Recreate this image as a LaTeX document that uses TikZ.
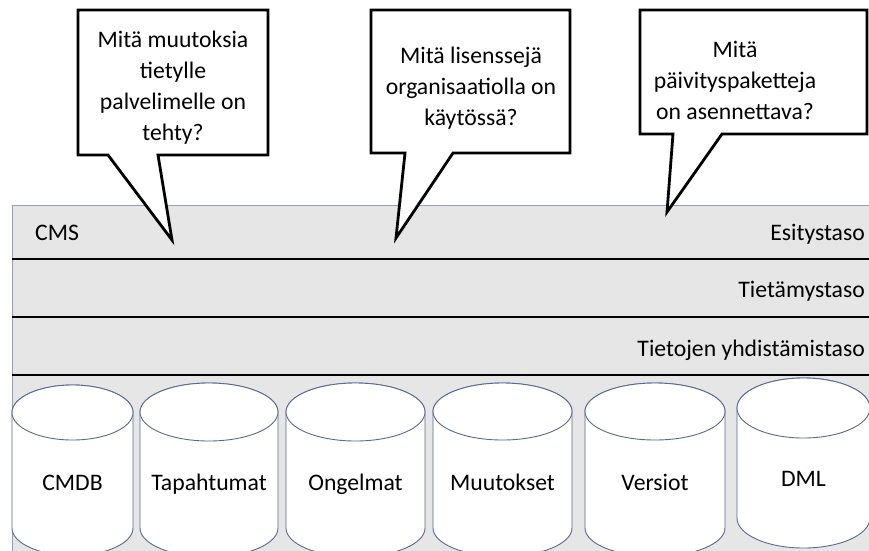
\documentclass[tikz,border=0pt]{standalone}
\usepackage{fontspec}
\setmainfont{Carlito}
\definecolor{layerfill}{HTML}{E6E6E6}
\definecolor{frameline}{HTML}{8EA0BE}
\definecolor{cylline}{HTML}{5A6892}
\begin{document}
\begin{tikzpicture}[x=1pt,y=-1pt,
  lbl/.style={font=\fontsize{23.7}{31}\selectfont, inner sep=0pt, text=black},
  qtext/.style={lbl, align=center},
  bubble/.style={draw=black, line width=2.8pt, fill=white, line join=miter},
  divider/.style={line width=1.8pt, draw=black},
  cyl/.style={draw=cylline, line width=0.9pt, fill=white}]
\useasboundingbox (0,0) rectangle (869,550);
\clip (0,0) rectangle (869,550);
\fill[white] (0,0) rectangle (869,550);

% layered CMS stack
\draw[draw=frameline, fill=layerfill, line width=1pt] (12,205) rectangle (880,570);
\draw[divider] (12,259) -- (880,259);
\draw[divider] (12,317) -- (880,317);
\draw[divider] (12,375) -- (880,375);

\node[lbl, anchor=base west] (cms) at (35,240) {CMS};
\node[lbl, anchor=base east] (esitys) at (865,240) {Esitystaso};
\node[lbl, anchor=base east] (tietamys) at (865,297) {Tietämystaso};
\node[lbl, anchor=base east] (yhdist) at (865,356) {Tietojen yhdistämistaso};

% data stores
\foreach \l/\r/\t/\ry/\b/\nm/\txt/\ty in {
  12/133/412.5/27.5/528/cmdb/CMDB/490,
  140/278/412/29/528/tapaht/Tapahtumat/490,
  286/425/412/29/528/ongelm/Ongelmat/490,
  433/572/411.5/28.5/528/muutok/Muutokset/490,
  585/725/411.5/28.5/528/versio/Versiot/490,
  737/870/408/30/518/dml/DML/486}{
  \pgfmathsetmacro\cx{(\l+\r)/2}
  \pgfmathsetmacro\rx{(\r-\l)/2}
  \draw[cyl] (\l,\t) -- (\l,\b)
    arc[start angle=180, end angle=0, x radius=\rx, y radius=\ry]
    -- (\r,\t)
    arc[start angle=0, end angle=-180, x radius=\rx, y radius=\ry] -- cycle;
  \draw[cyl] (\cx,\t) ellipse[x radius=\rx, y radius=\ry];
  \node[lbl, anchor=base] (\nm) at (\cx,\ty) {\txt};
}

% speech bubbles
\draw[bubble] (78,10) -- (268,10) -- (268,155) -- (158,155) -- (172,240)
  -- (108,155) -- (78,155) -- cycle;
\node[qtext] (q1) at (173,88) {Mitä muutoksia\\tietylle\\palvelimelle on\\tehty?};

\draw[bubble] (371,10) -- (570,10) -- (570,153) -- (453,153) -- (396,238)
  -- (405,153) -- (371,153) -- cycle;
\node[qtext] (q2) at (471,88) {Mitä lisenssejä\\organisaatiolla on\\käytössä?};

\draw[bubble] (640,10) -- (867,10) -- (867,134) -- (722,134) -- (667,212)
  -- (673,134) -- (640,134) -- cycle;
\node[qtext] (q3) at (735,80) {Mitä\\päivityspaketteja\\on asennettava?};
\end{tikzpicture}
\end{document}
